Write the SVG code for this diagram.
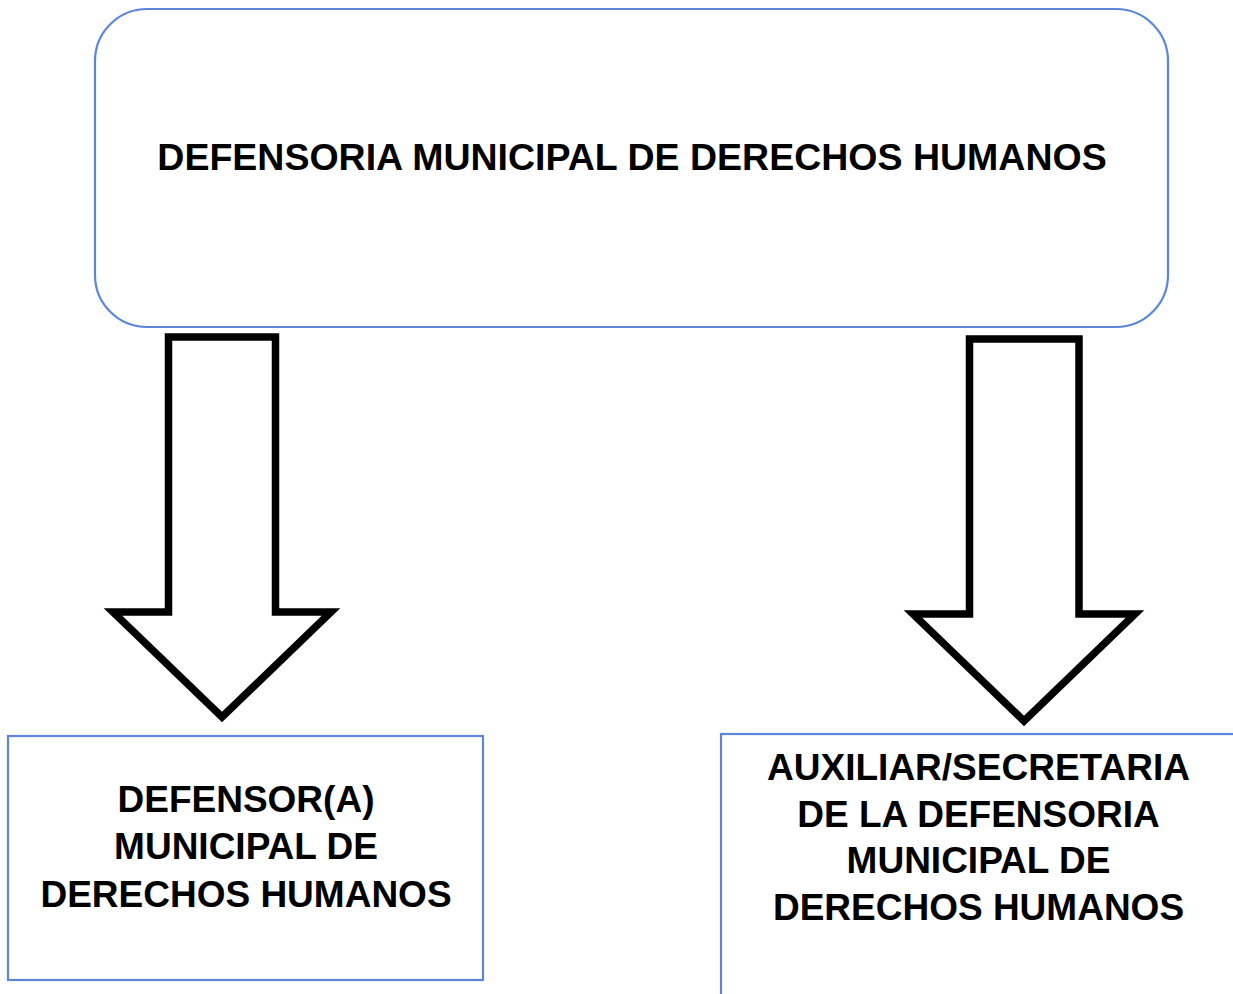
<svg xmlns="http://www.w3.org/2000/svg" width="1233" height="994" viewBox="0 0 1233 994">
<style>
.box{fill:#ffffff;stroke:#5b86dc;stroke-width:2.2}
.arrow{fill:#ffffff;stroke:#000000;stroke-width:7.5;stroke-linejoin:miter;stroke-miterlimit:10}
.t{font-family:"Liberation Sans",Arial,sans-serif;font-weight:bold;font-size:37px;fill:#000000;text-anchor:middle}
</style>
<rect x="0" y="0" width="1233" height="994" fill="#ffffff"/>
<g id="node-top">
<rect class="box" x="95" y="9" width="1073" height="318" rx="52" ry="52"/>
<text class="t" x="632" y="170" style="font-size:37.5px">DEFENSORIA MUNICIPAL DE DERECHOS HUMANOS</text>
</g>
<g id="connectors">
<polygon class="arrow" points="168.5,337 275.5,337 275.5,612 331,612 222,717 113,612 168.5,612"/>
<polygon class="arrow" points="969.5,339 1079,339 1079,614 1135,614 1024,721 913,614 969.5,614"/>
</g>
<g id="node-defensor">
<rect class="box" x="8" y="736" width="475" height="244"/>
<text class="t" x="246" y="812">DEFENSOR(A)</text>
<text class="t" x="246" y="859">MUNICIPAL DE</text>
<text class="t" x="246" y="907">DERECHOS HUMANOS</text>
</g>
<g id="node-auxiliar">
<rect class="box" x="721" y="734" width="530" height="280"/>
<text class="t" x="978.5" y="780">AUXILIAR/SECRETARIA</text>
<text class="t" x="978.5" y="827">DE LA DEFENSORIA</text>
<text class="t" x="978.5" y="873">MUNICIPAL DE</text>
<text class="t" x="978.5" y="920">DERECHOS HUMANOS</text>
</g>
</svg>
